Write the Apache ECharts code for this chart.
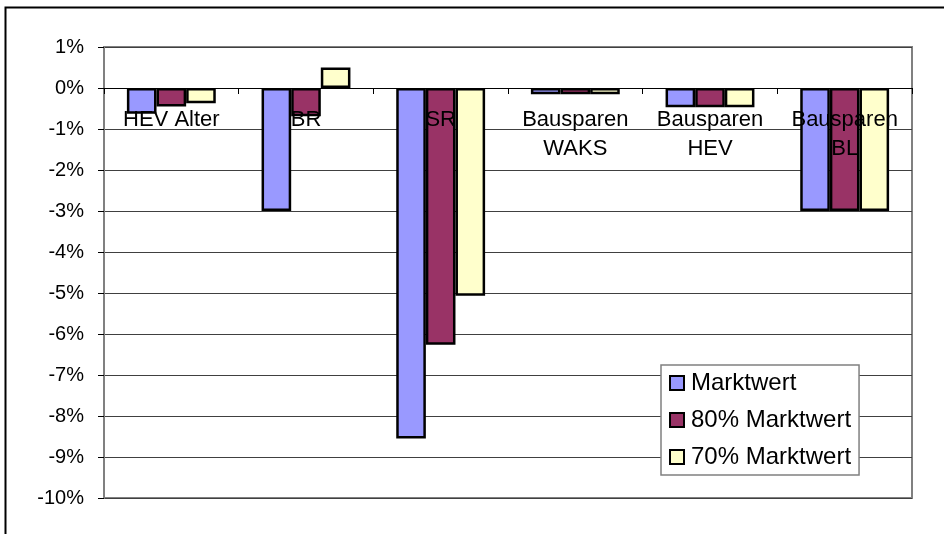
<!DOCTYPE html>
<html>
<head>
<meta charset="utf-8">
<script src="https://cdn.jsdelivr.net/npm/echarts@6/dist/echarts.min.js"></script>
<style>
  html, body { margin: 0; padding: 0; background: #fff; }
  #chart { width: 944px; height: 534px; }
</style>
</head>
<body>
<div id="chart"></div>
<script>
// Kategorien und Werte (in %)
const categories = ['HEV Alter', 'BR', 'SR', 'Bausparen\nWAKS', 'Bausparen\nHEV', 'Bausparen\nBL'];
const seriesNames = ['Marktwert', '80% Marktwert', '70% Marktwert'];
const marktwert = [-0.63, -3.0, -8.55, -0.15, -0.47, -3.0];
const marktwert80 = [-0.45, -0.69, -6.26, -0.15, -0.47, -3.0];
const marktwert70 = [-0.37, 0.5, -5.07, -0.15, -0.47, -3.0];
const colors = ['#9999FF', '#993366', '#FFFFCC'];

const chart = echarts.init(document.getElementById('chart'));

const makeSeries = (name, data, color) => ({
    name: name,
    type: 'bar',
    data: data,
    barGap: '0%',
    barCategoryGap: '34%',
    itemStyle: {
        color: color,
        borderColor: '#000',
        borderWidth: 2.5
    }
});

chart.setOption({
    animation: false,
    textStyle: { fontFamily: 'Liberation Sans, Arial, sans-serif' },
    graphic: [{
        type: 'rect',
        left: 3,
        top: 5,
        shape: { width: 1000, height: 1000 },
        style: { fill: 'none', stroke: '#000', lineWidth: 2 },
        silent: true
    }],
    grid: {
        left: 104,
        right: 32,
        top: 47,
        bottom: 36,
        containLabel: false,
        outerBoundsMode: 'none',
        show: true,
        borderColor: '#808080',
        borderWidth: 2,
        backgroundColor: '#fff'
    },
    legend: {
        orient: 'vertical',
        left: 661,
        top: 365,
        padding: [6, 8, 6, 8],
        itemWidth: 14,
        itemHeight: 14,
        itemGap: 13,
        backgroundColor: '#fff',
        borderColor: '#808080',
        borderWidth: 1.5,
        icon: 'rect',
        itemStyle: { borderColor: '#000', borderWidth: 2 },
        textStyle: { fontSize: 24, color: '#000', padding: [0, 0, 0, 2] },
        data: seriesNames
    },
    xAxis: {
        type: 'category',
        data: categories,
        z: 10,
        position: 'bottom',
        // Achse auf die 0%-Linie legen
        offset: -410,
        axisLine: { onZero: false, lineStyle: { color: '#000', width: 1 } },
        axisTick: { show: true, length: 6, lineStyle: { color: '#000' } },
        axisLabel: {
            interval: 0,
            margin: 17,
            fontSize: 22,
            lineHeight: 29,
            color: '#000',
            hideOverlap: false
        }
    },
    yAxis: {
        type: 'value',
        min: -10,
        max: 1,
        interval: 1,
        axisLine: { show: true, lineStyle: { color: '#808080', width: 2 } },
        axisTick: { show: true, length: 6, lineStyle: { color: '#000' } },
        splitLine: { show: true, lineStyle: { color: '#404040', width: 1 } },
        axisLabel: {
            formatter: '{value}%',
            fontSize: 20,
            color: '#000',
            margin: 20
        }
    },
    series: [
        makeSeries(seriesNames[0], marktwert, colors[0]),
        makeSeries(seriesNames[1], marktwert80, colors[1]),
        makeSeries(seriesNames[2], marktwert70, colors[2])
    ]
});
</script>
</body>
</html>
